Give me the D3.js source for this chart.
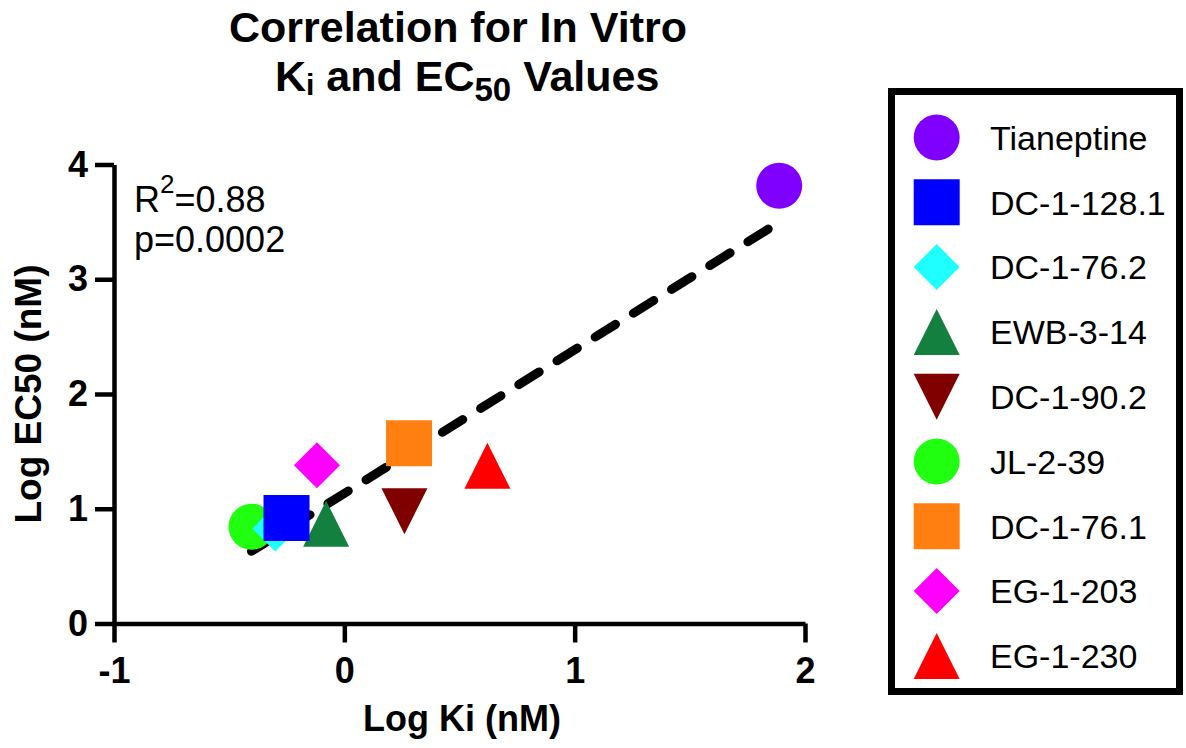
<!DOCTYPE html>
<html>
<head>
<meta charset="utf-8">
<script src="https://cdn.jsdelivr.net/npm/d3@7"></script>
<style>
  html, body { margin: 0; padding: 0; background: #fff; }
  svg { display: block; }
  text { font-family: "Liberation Sans", Arial, Helvetica, sans-serif; fill: #000; }
</style>
</head>
<body>
<svg id="chart" width="1186" height="748"></svg>
<script>
// ---- data ----
const compounds = ["Tianeptine", "DC-1-128.1", "DC-1-76.2", "EWB-3-14", "DC-1-90.2", "JL-2-39", "DC-1-76.1", "EG-1-203", "EG-1-230"];
const logKi    = [1.888, -0.251, -0.300, -0.079, 0.261, -0.403, 0.281, -0.119, 0.621];
const logEC50  = [3.815, 0.919, 0.828, 0.870, 0.979, 0.844, 1.570, 1.379, 1.375];
const colors   = ["#8000FF", "#0000FF", "#20FFFF", "#138040", "#800000", "#20FF10", "#FF8010", "#FF00FF", "#FF0000"];
const shapes   = ["circle", "square", "diamond", "triangle", "triangleDown", "circle", "square", "diamond", "triangle"];
const xTicks = [-1, 0, 1, 2];
const yTicks = [0, 1, 2, 3, 4];
const statsLines = ["R2=0.88", "p=0.0002"];

// ---- setup ----
const svg = d3.select("#chart");
const x = d3.scaleLinear().domain([-1, 2]).range([114, 805]);
const y = d3.scaleLinear().domain([0, 4]).range([623.5, 164.5]);
const S = 23; // half marker size

function shapePath(s) {
  switch (s) {
    case "circle": return d3.symbol().type(d3.symbolCircle).size(Math.PI * S * S)();
    case "square": return d3.symbol().type(d3.symbolSquare).size(4 * S * S)();
    case "diamond": return `M0,${-S}L${S},0L0,${S}L${-S},0Z`;
    case "triangle": return `M0,${-S}L${S},${S}L${-S},${S}Z`;
    case "triangleDown": return `M0,${S}L${S},${-S}L${-S},${-S}Z`;
  }
}

// ---- title ----
const title = svg.append("g").attr("font-weight", "bold").attr("font-size", 43);
title.append("text").attr("x", 458).attr("y", 42).attr("text-anchor", "middle").text("Correlation for In Vitro");
const t2 = title.append("text").attr("x", 275).attr("y", 91);
t2.append("tspan").text("K");
t2.append("tspan").attr("font-size", 30).attr("dy", 4).text("i");
t2.append("tspan").attr("dy", -4).text(" and EC");
t2.append("tspan").attr("font-size", 33).attr("dy", 10).text("50");
t2.append("tspan").attr("dy", -10).text(" Values");

// ---- regression line ----
const n = logKi.length;
const mx = d3.mean(logKi), my = d3.mean(logEC50);
let sxy = 0, sxx = 0;
for (let i = 0; i < n; i++) { sxy += (logKi[i] - mx) * (logEC50[i] - my); sxx += (logKi[i] - mx) ** 2; }
const slope = sxy / sxx, intercept = my - slope * mx;
const [x0, x1] = d3.extent(logKi);
svg.append("line")
  .attr("x1", x(x0)).attr("y1", y(intercept + slope * x0))
  .attr("x2", x(x1)).attr("y2", y(intercept + slope * x1))
  .attr("stroke", "#000").attr("stroke-width", 9)
  .attr("stroke-linecap", "round").attr("stroke-dasharray", "24,21");

// ---- axes ----
const xAxis = svg.append("g").attr("transform", `translate(0,${y(0)})`)
  .call(d3.axisBottom(x).tickValues(xTicks).tickFormat(d3.format("d")).tickSize(19).tickSizeOuter(0).tickPadding(15));
const yAxis = svg.append("g").attr("transform", `translate(${x(-1)},0)`)
  .call(d3.axisLeft(y).tickValues(yTicks).tickFormat(d3.format("d")).tickSize(19).tickSizeOuter(0).tickPadding(7));
[xAxis, yAxis].forEach(g => {
  g.selectAll("path.domain").attr("stroke", "#000").attr("stroke-width", 4.5);
  g.selectAll(".tick line").attr("stroke", "#000").attr("stroke-width", 4.5);
  g.selectAll(".tick text").attr("font-size", 36).attr("font-weight", "bold")
    .attr("font-family", "'Liberation Sans', Arial, sans-serif").attr("fill", "#000");
});
xAxis.selectAll(".tick text").text(d => d < 0 ? "-" + Math.abs(d) : d);

// axis labels
svg.append("text").attr("x", 462).attr("y", 731).attr("text-anchor", "middle")
  .attr("font-size", 36).attr("font-weight", "bold").text("Log Ki (nM)");
svg.append("text").attr("transform", `translate(41,${(y(0) + y(4)) / 2}) rotate(-90)`)
  .attr("text-anchor", "middle").attr("font-size", 37).attr("font-weight", "bold").text("Log EC50 (nM)");

// stats text
const st = svg.append("g").attr("font-size", 36);
const r2 = st.append("text").attr("x", 134).attr("y", 212);
r2.append("tspan").text(statsLines[0].slice(0, 1));
r2.append("tspan").attr("font-size", 26).attr("dy", -19).text(statsLines[0].slice(1, 2));
r2.append("tspan").attr("dy", 19).text(statsLines[0].slice(2));
st.append("text").attr("x", 134).attr("y", 252).text(statsLines[1]);

// ---- markers (drawn last data set first) ----
const order = d3.range(n).reverse();
svg.append("g").selectAll("path").data(order).join("path")
  .attr("transform", i => `translate(${x(logKi[i])},${y(logEC50[i])})`)
  .attr("d", i => shapePath(shapes[i]))
  .attr("fill", i => colors[i]);

// ---- legend ----
const legend = svg.append("g");
legend.append("rect").attr("x", 891.5).attr("y", 91.5).attr("width", 288).attr("height", 600)
  .attr("fill", "none").attr("stroke", "#000").attr("stroke-width", 7);
const ly = d3.scalePoint().domain(compounds).range([137.5, 137.5 + 8 * 64.8]);
const items = legend.selectAll("g.item").data(compounds).join("g").attr("class", "item")
  .attr("transform", d => `translate(0,${ly(d)})`);
items.append("path").attr("transform", "translate(936.7,0)")
  .attr("d", (d, i) => shapePath(shapes[i])).attr("fill", (d, i) => colors[i]);
items.append("text").attr("x", 990).attr("dy", "0.36em").attr("font-size", 34).text(d => d);
</script>
</body>
</html>
